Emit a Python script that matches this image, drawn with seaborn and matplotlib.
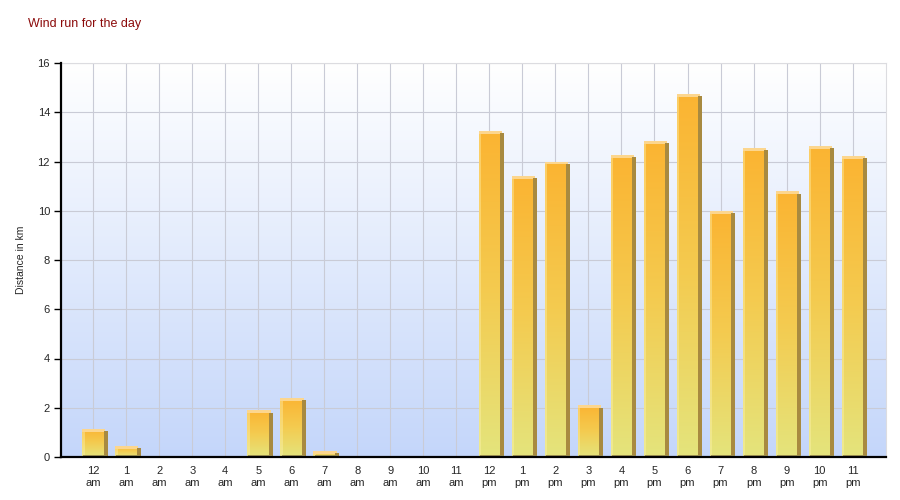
import numpy as np
import pandas as pd
import matplotlib
matplotlib.use("Agg")
import matplotlib.pyplot as plt
import seaborn as sns
from matplotlib.colors import LinearSegmentedColormap
from matplotlib.patches import Rectangle

hours = ["12\nam", "1\nam", "2\nam", "3\nam", "4\nam", "5\nam", "6\nam", "7\nam",
         "8\nam", "9\nam", "10\nam", "11\nam", "12\npm", "1\npm", "2\npm", "3\npm",
         "4\npm", "5\npm", "6\npm", "7\npm", "8\npm", "9\npm", "10\npm", "11\npm"]
distance_km = [1.15, 0.45, 0, 0, 0, 1.9, 2.4, 0.25, 0, 0, 0, 0,
               13.25, 11.42, 12.0, 2.1, 12.27, 12.85, 14.75, 10.0, 12.56, 10.8, 12.64, 12.23]

df = pd.DataFrame({"hour": hours, "km": distance_km})

sns.set_style("white")
plt.rcParams['font.family'] = ['Liberation Sans', 'DejaVu Sans']

fig = plt.figure(figsize=(9, 5), dpi=100)
ax = fig.add_axes([0.068, 0.086, 0.916, 0.788])

sns.barplot(data=df, x="hour", y="km", color="#f9b93c", width=0.66, ax=ax,
            edgecolor="none", zorder=3)

ax.set_xlim(-0.97, 24.0)
ax.set_ylim(0, 16)

# background gradient
bg = LinearSegmentedColormap.from_list("bg", ["#c4d6fa", "#ffffff"])
ax.imshow(np.linspace(0, 1, 256).reshape(-1, 1), cmap=bg, aspect="auto",
          extent=(-0.97, 24.0, 0, 16), origin="lower", zorder=0)

# bar gradients (per bar, yellow bottom -> orange top) and 3d edges
bar_cmap = LinearSegmentedColormap.from_list("bar", ["#e4e47c", "#f4cb50", "#fbb432"])
for p in ax.patches[:]:
    x, w, h = p.get_x(), p.get_width(), p.get_height()
    if h <= 0:
        continue
    grad = np.linspace(0, 1, 128).reshape(-1, 1)
    im = ax.imshow(grad, cmap=bar_cmap, vmin=0, vmax=1, aspect="auto",
                   extent=(x, x + w, 0, h), origin="lower", zorder=4)
    im.set_clip_path(p)
    ax.add_patch(Rectangle((x, 0), w * 0.12, h, color="#fff4b0", alpha=0.4, zorder=5, lw=0))
    ax.add_patch(Rectangle((x, h - 0.12), w + w * 0.06, 0.12, color="#fcd68e", zorder=5, lw=0))
    ax.add_patch(Rectangle((x + w, 0), w * 0.18, h - 0.1, color="#a88a40", zorder=5, lw=0))
    ax.add_patch(Rectangle((x + w * 0.05, 0), w * 1.1, 0.1, color="#a89a58", zorder=5, lw=0))

ax.set_yticks(range(0, 17, 2))
ax.grid(True, color="#c9cbd6", linewidth=0.8, zorder=1)
ax.set_axisbelow(True)
for s in ["top", "right"]:
    ax.spines[s].set_color("#dcdce0")
    ax.spines[s].set_linewidth(0.8)
for s in ["left", "bottom"]:
    ax.spines[s].set_color("black")
    ax.spines[s].set_linewidth(1.6)
    ax.spines[s].set_zorder(6)

ax.tick_params(axis="y", left=True, length=5, width=1, labelsize=8, color="black", pad=3)
ax.tick_params(axis="x", bottom=False, labelsize=8, pad=3)
for t in ax.get_xticklabels():
    t.set_linespacing(1.3)
ax.set_xlabel("")
ax.set_ylabel("Distance in km", fontsize=7.5, labelpad=8)

fig.text(0.031, 0.952, "Wind run for the day", color="#8b0a0a", fontsize=9, ha="left", va="center")

fig.savefig("out.png", dpi=100)
